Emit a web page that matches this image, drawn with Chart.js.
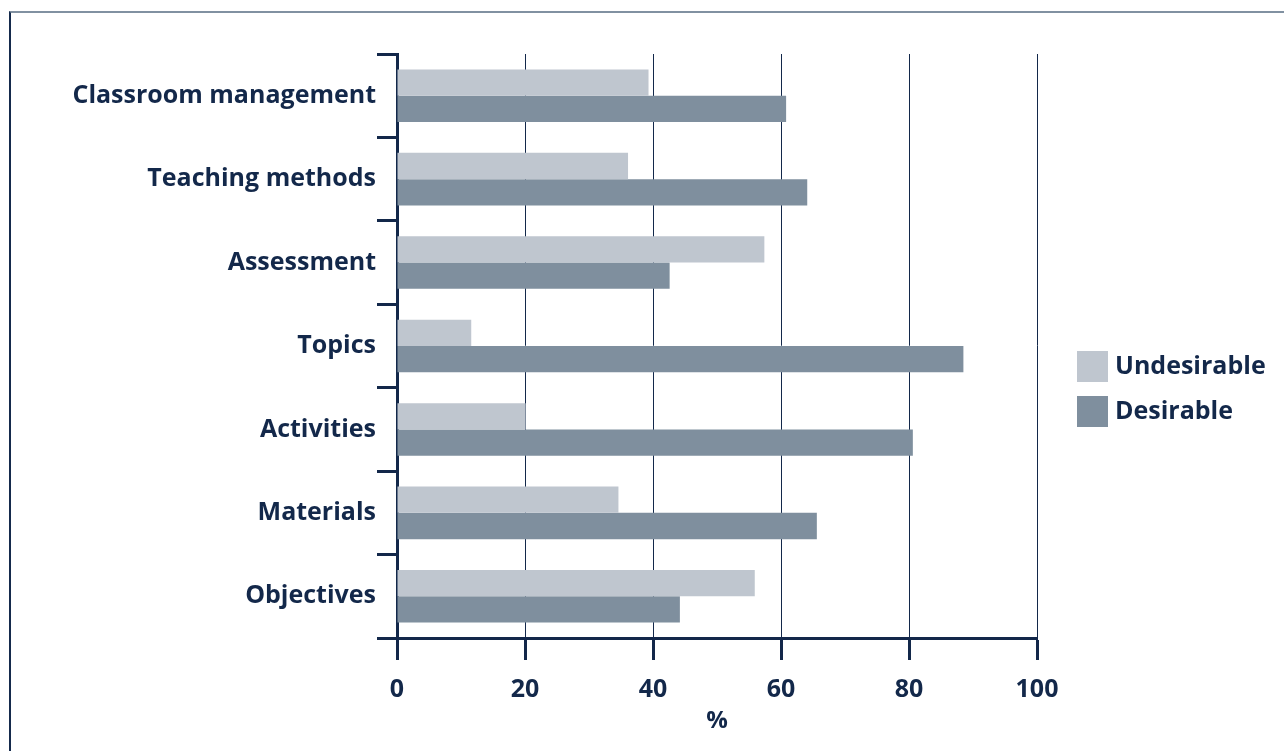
<!DOCTYPE html>
<html>
<head>
<meta charset="utf-8">
<title>Desirable vs undesirable</title>
<script src="https://cdn.jsdelivr.net/npm/chart.js@4.4.0/dist/chart.umd.min.js"></script>
<style>
  html, body { margin: 0; padding: 0; background: #fff; }
  #frame {
    position: absolute; left: 9px; top: 11px; right: 0; bottom: 0;
    border-top: 2px solid #8191a1; border-left: 2px solid #152a4c;
  }
  #wrap { position: absolute; left: 0; top: 0; width: 1284px; height: 751px; }
</style>
</head>
<body>
<div id="frame"></div>
<div id="wrap"><canvas id="chart" width="1284" height="751"></canvas></div>
<script>
// categorias (de arriba hacia abajo)
const categories = ['Classroom management', 'Teaching methods', 'Assessment', 'Topics', 'Activities', 'Materials', 'Objectives'];
const undesirable = [39.3, 36.1, 57.4, 11.6, 20.1, 34.6, 55.9];
const desirable = [60.8, 64.1, 42.6, 88.5, 80.6, 65.6, 44.2];
const xTicks = [0, 20, 40, 60, 80, 100];

const NAVY = '#13284a';
const FONT = '"Open Sans", "Noto Sans", sans-serif';

// leyenda dibujada a la derecha del area
const sideLegend = {
    id: 'sideLegend',
    afterDraw(chart) {
        const ctx = chart.ctx;
        const x = chart.chartArea.right + 40;
        let y = 351;
        ctx.save();
        chart.data.datasets.forEach(ds => {
            ctx.fillStyle = ds.backgroundColor;
            ctx.fillRect(x, y, 31, 31);
            ctx.fillStyle = NAVY;
            ctx.font = 'bold 25px ' + FONT;
            ctx.textBaseline = 'middle';
            ctx.fillText(ds.label, x + 38, y + 16);
            y += 45;
        });
        ctx.restore();
    }
};

new Chart(document.getElementById('chart').getContext('2d'), {
    type: 'bar',
    data: {
        labels: categories,
        datasets: [
            { label: 'Undesirable', data: undesirable, backgroundColor: '#bfc6cf' },
            { label: 'Desirable', data: desirable, backgroundColor: '#7f8f9e' }
        ]
    },
    options: {
        indexAxis: 'y',
        responsive: false,
        animation: false,
        categoryPercentage: 0.63,
        barPercentage: 1.0,
        layout: { padding: { top: 54, right: 247, left: 0, bottom: 0 } },
        plugins: {
            legend: { display: false },
            tooltip: { enabled: false }
        },
        scales: {
            x: {
                min: 0,
                max: 100,
                afterBuildTicks: scale => { scale.ticks = xTicks.map(v => ({ value: v })); },
                afterFit: scale => { scale.height = 113; },
                grid: { color: NAVY, lineWidth: 1, tickLength: 22, tickWidth: 3, tickColor: NAVY },
                border: { display: true, color: NAVY, width: 3 },
                ticks: { color: NAVY, padding: 15, font: { family: FONT, size: 25, weight: 'bold' } },
                title: { display: true, text: '%', color: NAVY, padding: { top: 0, bottom: 15 }, font: { family: FONT, size: 24, weight: 'bold' } }
            },
            y: {
                afterFit: scale => { scale.width = 397; },
                grid: { offset: true, drawOnChartArea: false, tickLength: 20, tickWidth: 3, tickColor: NAVY, color: NAVY },
                border: { display: true, color: NAVY, width: 3 },
                ticks: { color: NAVY, padding: 1, font: { family: FONT, size: 25, weight: 'bold' } }
            }
        }
    },
    plugins: [sideLegend]
});
</script>
</body>
</html>
